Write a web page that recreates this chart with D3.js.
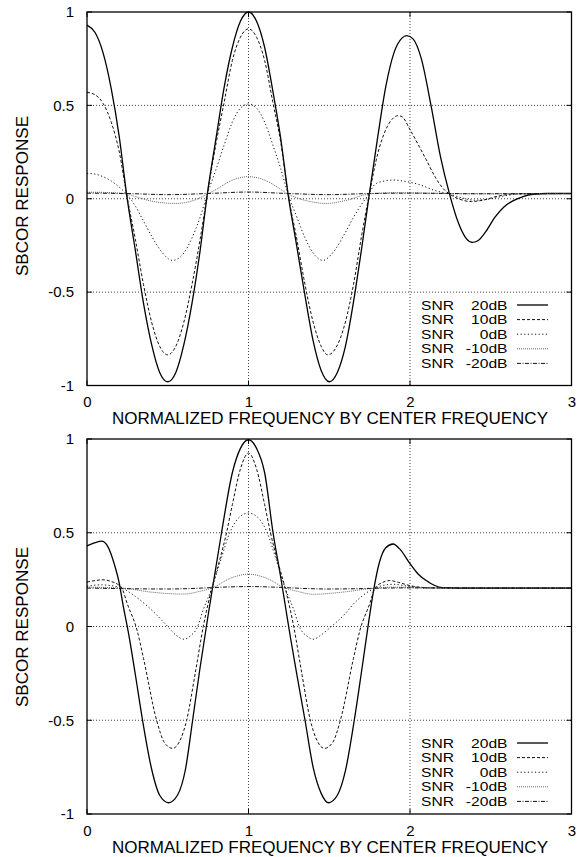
<!DOCTYPE html>
<html>
<head>
<meta charset="utf-8">
<script src="https://cdn.jsdelivr.net/npm/d3@7"></script>
<style>
 body { margin:0; background:#fff; }
 text { font-family:"Liberation Sans", Arial, sans-serif; fill:#000; }
</style>
</head>
<body>
<script>
// tick values shared by both panels
var xTicks = [0, 1, 2, 3];
var yTicks = [-1, -0.5, 0, 0.5, 1];
var xGrid = [1, 2];
var yGrid = [-0.5, 0, 0.5];
var snrNames = ["20dB", "10dB", "0dB", "-10dB", "-20dB"];

// upper panel as [x, response]
var top20 = [[0,0.93],[0.05,0.89],[0.1,0.78],[0.15,0.59],[0.2,0.33],[0.245,0.025],[0.3,-0.28],[0.35,-0.56],[0.4,-0.78],[0.45,-0.93],[0.5,-0.98],[0.55,-0.93],[0.6,-0.78],[0.65,-0.56],[0.7,-0.28],[0.745,0.025],[0.8,0.33],[0.85,0.6],[0.9,0.81],[0.95,0.95],[1,1.0],[1.05,0.95],[1.1,0.81],[1.15,0.58],[1.2,0.32],[1.245,0.025],[1.3,-0.26],[1.35,-0.52],[1.4,-0.76],[1.45,-0.92],[1.5,-0.98],[1.55,-0.93],[1.6,-0.79],[1.66,-0.5],[1.7,-0.27],[1.748,0.025],[1.8,0.33],[1.85,0.6],[1.9,0.78],[1.95,0.86],[1.98,0.873],[2.02,0.855],[2.07,0.75],[2.13,0.5],[2.19,0.22],[2.245,0.025],[2.3,-0.13],[2.35,-0.215],[2.385,-0.234],[2.42,-0.225],[2.47,-0.175],[2.525,-0.1],[2.58,-0.045],[2.64,-0.01],[2.7,0.012],[2.76,0.024],[2.85,0.028],[3,0.028]];
var top10 = [[0,0.57],[0.05,0.557],[0.1,0.51],[0.15,0.41],[0.2,0.25],[0.245,0.025],[0.3,-0.22],[0.35,-0.46],[0.4,-0.66],[0.45,-0.79],[0.5,-0.836],[0.55,-0.79],[0.6,-0.66],[0.65,-0.46],[0.7,-0.22],[0.745,0.025],[0.8,0.3],[0.85,0.52],[0.9,0.74],[0.95,0.865],[1,0.91],[1.05,0.865],[1.1,0.74],[1.15,0.52],[1.2,0.3],[1.245,0.025],[1.3,-0.22],[1.35,-0.46],[1.4,-0.66],[1.45,-0.79],[1.49,-0.836],[1.54,-0.8],[1.6,-0.66],[1.65,-0.46],[1.7,-0.2],[1.748,0.025],[1.8,0.24],[1.85,0.37],[1.9,0.435],[1.925,0.445],[1.95,0.44],[2.0,0.37],[2.06,0.275],[2.1,0.21],[2.16,0.11],[2.2,0.06],[2.245,0.025],[2.3,0.0],[2.38,-0.015],[2.45,-0.008],[2.55,0.015],[2.65,0.026],[3,0.028]];
var top0 = [[0,0.136],[0.05,0.132],[0.1,0.118],[0.15,0.095],[0.2,0.062],[0.245,0.025],[0.3,-0.04],[0.35,-0.12],[0.4,-0.2],[0.45,-0.27],[0.53,-0.33],[0.6,-0.29],[0.65,-0.21],[0.7,-0.1],[0.745,0.025],[0.8,0.16],[0.85,0.29],[0.9,0.41],[0.95,0.485],[1,0.507],[1.05,0.485],[1.1,0.41],[1.15,0.29],[1.2,0.16],[1.245,0.025],[1.3,-0.1],[1.35,-0.21],[1.4,-0.29],[1.46,-0.33],[1.53,-0.28],[1.6,-0.18],[1.65,-0.1],[1.7,-0.03],[1.745,0.025],[1.78,0.075],[1.83,0.093],[1.9,0.1],[1.97,0.093],[2.06,0.075],[2.15,0.045],[2.245,0.025],[2.32,0.005],[2.4,-0.008],[2.5,0.0],[2.6,0.018],[2.7,0.026],[3,0.028]];
var topM10 = [[0,0.035],[0.1,0.034],[0.2,0.03],[0.245,0.025],[0.3,0.012],[0.4,-0.013],[0.55,-0.025],[0.65,-0.012],[0.745,0.025],[0.8,0.05],[0.9,0.1],[1,0.118],[1.1,0.1],[1.2,0.05],[1.245,0.025],[1.3,0.005],[1.4,-0.018],[1.48,-0.025],[1.6,-0.01],[1.745,0.025],[1.9,0.032],[2.1,0.03],[2.4,0.026],[3,0.028]];
var topM20 = [[0,0.03],[0.245,0.028],[0.5,0.022],[0.745,0.028],[1,0.036],[1.245,0.028],[1.5,0.022],[1.745,0.028],[2,0.03],[2.4,0.027],[3,0.028]];

// lower panel
var bot20 = [[0,0.43],[0.05,0.447],[0.09,0.455],[0.13,0.425],[0.17,0.33],[0.2,0.23],[0.22,0.13],[0.26,-0.05],[0.3,-0.26],[0.344,-0.5],[0.4,-0.76],[0.45,-0.9],[0.505,-0.94],[0.56,-0.9],[0.61,-0.76],[0.654,-0.5],[0.7,-0.22],[0.75,0.06],[0.78,0.22],[0.833,0.5],[0.9,0.82],[0.95,0.95],[1,0.996],[1.05,0.95],[1.1,0.82],[1.152,0.5],[1.2,0.26],[1.23,0.1],[1.26,-0.06],[1.3,-0.26],[1.35,-0.5],[1.4,-0.75],[1.45,-0.89],[1.495,-0.94],[1.55,-0.9],[1.6,-0.77],[1.655,-0.5],[1.7,-0.24],[1.745,0.03],[1.777,0.205],[1.81,0.34],[1.85,0.42],[1.895,0.44],[1.94,0.41],[2.0,0.335],[2.05,0.28],[2.1,0.245],[2.15,0.22],[2.2,0.207],[2.3,0.205],[3,0.205]];
var bot10 = [[0,0.237],[0.05,0.245],[0.1,0.249],[0.15,0.24],[0.19,0.225],[0.216,0.205],[0.25,0.12],[0.31,-0.02],[0.35,-0.17],[0.431,-0.5],[0.48,-0.62],[0.53,-0.65],[0.58,-0.6],[0.617,-0.5],[0.67,-0.25],[0.72,0.0],[0.773,0.205],[0.82,0.35],[0.864,0.5],[0.9,0.65],[0.95,0.84],[1,0.925],[1.05,0.84],[1.1,0.65],[1.136,0.5],[1.18,0.35],[1.227,0.205],[1.28,0.0],[1.33,-0.25],[1.383,-0.5],[1.42,-0.6],[1.47,-0.65],[1.52,-0.62],[1.569,-0.5],[1.65,-0.17],[1.69,-0.02],[1.75,0.12],[1.784,0.205],[1.83,0.235],[1.875,0.245],[1.93,0.235],[2.0,0.218],[2.1,0.207],[2.2,0.205],[3,0.205]];
var bot0 = [[0,0.215],[0.08,0.222],[0.15,0.218],[0.216,0.205],[0.3,0.16],[0.41,0.08],[0.5,0.0],[0.55,-0.045],[0.6,-0.068],[0.64,-0.05],[0.68,-0.01],[0.72,0.09],[0.773,0.205],[0.83,0.36],[0.884,0.5],[0.94,0.58],[1,0.605],[1.06,0.58],[1.116,0.5],[1.17,0.36],[1.227,0.205],[1.28,0.09],[1.32,-0.01],[1.36,-0.05],[1.4,-0.068],[1.45,-0.045],[1.5,-0.01],[1.6,0.07],[1.65,0.12],[1.75,0.19],[1.784,0.205],[1.85,0.222],[1.9,0.225],[2.0,0.213],[2.1,0.206],[3,0.205]];
var botM10 = [[0,0.21],[0.216,0.205],[0.4,0.183],[0.6,0.173],[0.7,0.188],[0.773,0.205],[0.89,0.258],[1,0.279],[1.11,0.258],[1.227,0.205],[1.3,0.188],[1.4,0.172],[1.6,0.185],[1.784,0.205],[1.9,0.21],[2.1,0.206],[3,0.205]];
var botM20 = [[0,0.205],[0.5,0.2],[1,0.213],[1.5,0.2],[2,0.206],[3,0.205]];

// line styles, one per SNR
var dashes = ["none", "3,2", "1.2,2.4", "1,1", "4,1.5,1,1.5"];
var colors = ["#000", "#111", "#111", "#666", "#111"];
var widths = [1.3, 1, 1, 1, 1];

var svg = d3.select("body").append("svg")
    .attr("width", 584)
    .attr("height", 857)
    .style("background-color", "#fff");

var panels = [
  {top: 12,  bottom: 385.5, series: [top20, top10, top0, topM10, topM20], legendY: 305, labelY: 196},
  {top: 439, bottom: 814,   series: [bot20, bot10, bot0, botM10, botM20], legendY: 743, labelY: 627}
];

// stretch small legend text sideways so it fills like the scan
function widen(sel) {
  sel.each(function() {
    var w = this.getComputedTextLength();
    d3.select(this).attr("textLength", w * 1.2).attr("lengthAdjust", "spacingAndGlyphs");
  });
}

panels.forEach(function(p, pi) {
  var x = d3.scaleLinear().domain([0, 3]).range([87, 571.5]);
  var y = d3.scaleLinear().domain([-1, 1]).range([p.bottom, p.top]);
  var g = svg.append("g");

  // dotted grid
  g.selectAll("line.gx").data(xGrid).enter().append("line")
      .attr("x1", x).attr("x2", x)
      .attr("y1", p.top).attr("y2", p.bottom)
      .attr("stroke", "#444").attr("stroke-width", 1).attr("stroke-dasharray", "1,2");
  g.selectAll("line.gy").data(yGrid).enter().append("line")
      .attr("x1", 87).attr("x2", 571.5)
      .attr("y1", y).attr("y2", y)
      .attr("stroke", "#444").attr("stroke-width", 1).attr("stroke-dasharray", "1,2");

  // tick labels
  var ax = g.append("g").attr("transform", "translate(0," + p.bottom + ")")
      .call(d3.axisBottom(x).tickValues(xTicks).tickSize(0).tickPadding(11).tickFormat(function(d) { return String(d); }));
  var ay = g.append("g").attr("transform", "translate(87,0)")
      .call(d3.axisLeft(y).tickValues(yTicks).tickSize(0).tickPadding(13).tickFormat(function(d) { return String(d); }));
  [ax, ay].forEach(function(a) {
    a.select(".domain").remove();
    a.selectAll("text").attr("font-size", 15).attr("font-family", "Liberation Sans, Arial, sans-serif").attr("fill", "#000");
  });

  // small inward ticks
  xTicks.forEach(function(d) {
    g.append("line").attr("x1", x(d)).attr("x2", x(d)).attr("y1", p.bottom).attr("y2", p.bottom - 5).attr("stroke", "#000");
    g.append("line").attr("x1", x(d)).attr("x2", x(d)).attr("y1", p.top).attr("y2", p.top + 5).attr("stroke", "#000");
  });
  yTicks.forEach(function(d) {
    g.append("line").attr("x1", 87).attr("x2", 92).attr("y1", y(d)).attr("y2", y(d)).attr("stroke", "#000");
    g.append("line").attr("x1", 571.5).attr("x2", 566.5).attr("y1", y(d)).attr("y2", y(d)).attr("stroke", "#000");
  });

  // curves
  var line = d3.line()
      .x(function(d) { return x(d[0]); })
      .y(function(d) { return y(d[1]); })
      .curve(d3.curveMonotoneX);

  p.series.forEach(function(s, i) {
    g.append("path")
        .attr("d", line(s))
        .attr("fill", "none")
        .attr("stroke", colors[i])
        .attr("stroke-width", widths[i])
        .attr("stroke-dasharray", dashes[i]);
  });

  // frame
  g.append("rect")
      .attr("x", 87).attr("y", p.top)
      .attr("width", 571.5 - 87).attr("height", p.bottom - p.top)
      .attr("fill", "none").attr("stroke", "#000").attr("stroke-width", 1.3);

  // legend
  snrNames.forEach(function(n, i) {
    var ly = p.legendY + i * 14.6;
    g.append("text").attr("x", 421).attr("y", ly).attr("dy", "0.36em")
        .attr("font-size", 13).text("SNR").call(widen);
    g.append("text").attr("x", 507.5).attr("y", ly).attr("dy", "0.36em")
        .attr("font-size", 13).attr("text-anchor", "end").text(n).call(widen);
    g.append("line")
        .attr("x1", 517).attr("x2", 548).attr("y1", ly).attr("y2", ly)
        .attr("stroke", colors[i]).attr("stroke-width", widths[i])
        .attr("stroke-dasharray", dashes[i]);
  });

  // axis titles
  g.append("text")
      .attr("x", 330).attr("y", p.bottom + 33).attr("dy", "0.36em")
      .attr("text-anchor", "middle").attr("font-size", 16)
      .attr("textLength", 436).attr("lengthAdjust", "spacingAndGlyphs")
      .text("NORMALIZED FREQUENCY BY CENTER FREQUENCY");
  g.append("text")
      .attr("transform", "translate(22.5," + p.labelY + ") rotate(-90)")
      .attr("dy", "0.36em")
      .attr("text-anchor", "middle").attr("font-size", 16)
      .attr("textLength", 160).attr("lengthAdjust", "spacingAndGlyphs")
      .text("SBCOR RESPONSE");
});
</script>
</body>
</html>
